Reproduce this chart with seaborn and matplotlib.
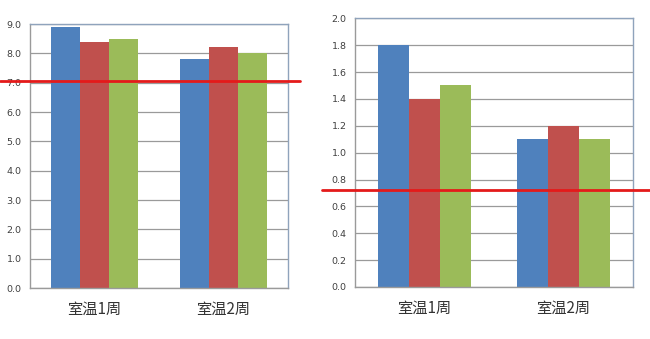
import matplotlib
matplotlib.use("Agg")
import matplotlib.pyplot as plt
import seaborn as sns
import pandas as pd
import numpy as np

sns.set_style("white")
plt.rcParams["font.family"] = ["Noto Sans CJK SC", "DejaVu Sans"]

categories = ["室温1周", "室温2周"]
series = ["A", "B", "C"]
left_values = [[8.9, 8.4, 8.5], [7.8, 8.2, 8.0]]
right_values = [[1.8, 1.4, 1.5], [1.1, 1.2, 1.1]]
left_limit = 7.05
right_limit = 0.72
left_ticks = [0.0, 1.0, 2.0, 3.0, 4.0, 5.0, 6.0, 7.0, 8.0, 9.0]
right_ticks = [0.0, 0.2, 0.4, 0.6, 0.8, 1.0, 1.2, 1.4, 1.6, 1.8, 2.0]

palette = ["#4F81BD", "#C0504D", "#9BBB59"]
spine_color = "#8FA3BC"
grid_color = "#9A9A9A"


def to_frame(values):
    rows = []
    for cat, vals in zip(categories, values):
        for s, v in zip(series, vals):
            rows.append({"cat": cat, "series": s, "value": v})
    return pd.DataFrame(rows)


fig = plt.figure(figsize=(6.5, 3.39), dpi=100)
ax_l = fig.add_axes([30 / 650, 51 / 339, 258 / 650, 264 / 339])
ax_r = fig.add_axes([355 / 650, 52 / 339, 278 / 650, 268.7 / 339])


def draw(ax, values, ticks, fmt, limit, ext_left, ext_right):
    df = to_frame(values)
    ax.set_axisbelow(True)
    for t in ticks:
        ax.axhline(t, color=grid_color, lw=0.9, zorder=0)
    sns.barplot(data=df, x="cat", y="value", hue="series", palette=palette,
                width=0.667, gap=0, saturation=1, ax=ax, legend=False,
                errorbar=None, edgecolor="none", zorder=2)
    ax.set_xlim(-0.5, 1.5)
    ax.set_ylim(ticks[0], ticks[-1])
    ax.set_yticks(ticks)
    ax.set_yticklabels([fmt.format(t) for t in ticks], fontsize=6.8,
                       color="#404040", family="DejaVu Sans")
    ax.set_xticks([0, 1])
    ax.set_xticklabels(categories, fontsize=11, color="#333333")
    ax.set_xticks([-0.5, 0.5, 1.5], minor=True)
    ax.tick_params(axis="x", which="major", length=0, pad=9)
    ax.tick_params(axis="x", which="minor", length=5, color=grid_color,
                   direction="out", width=0.9)
    ax.tick_params(axis="y", length=4, color=grid_color, direction="out",
                   width=0.9, pad=2)
    ax.set_xlabel("")
    ax.set_ylabel("")
    for side in ["top", "right", "left", "bottom"]:
        ax.spines[side].set_color(spine_color)
        ax.spines[side].set_linewidth(1.0)
    ax.spines["left"].set_color(grid_color)
    ax.spines["bottom"].set_color(grid_color)
    ax.axhline(limit, xmin=ext_left, xmax=ext_right, color="#E41A1A",
               lw=2.0, clip_on=False, zorder=5)


draw(ax_l, left_values, left_ticks, "{:.1f}", left_limit,
     -30 / 258, 1 + 12 / 258)
draw(ax_r, right_values, right_ticks, "{:.1f}", right_limit,
     -33 / 278, 1 + 17 / 278)

fig.savefig("out.png", dpi=100, facecolor="white")
